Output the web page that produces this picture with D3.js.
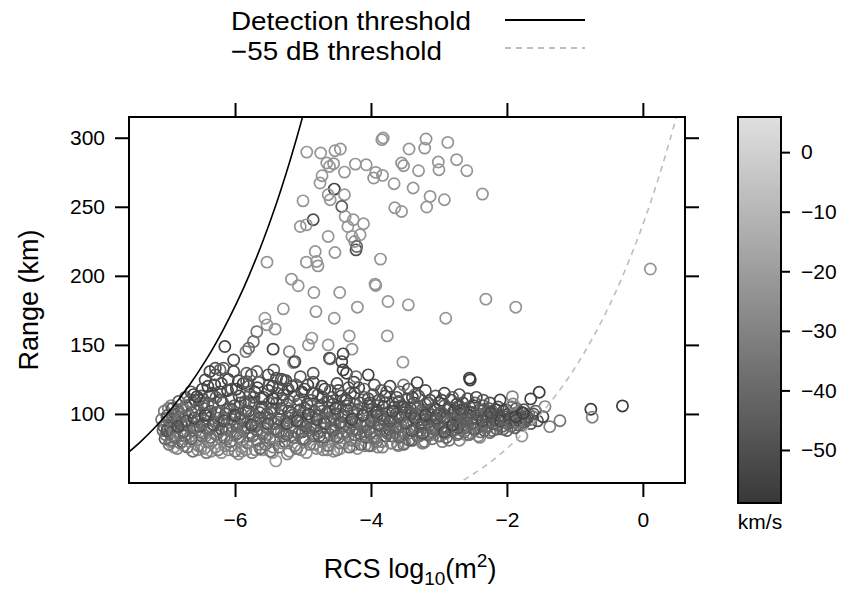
<!DOCTYPE html>
<html><head><meta charset="utf-8">
<script src="https://cdn.jsdelivr.net/npm/d3@7"></script>
<style>body{margin:0;background:#fff}text{font-family:"Liberation Sans",Arial,sans-serif;fill:#000}</style>
</head><body><svg id="c" width="842" height="591"></svg>
<script>
const xTicks = [-6, -4, -2, 0];
const yTicks = [100, 150, 200, 250, 300];
const cTicks = [0, -10, -20, -30, -40, -50];
const legendLabels = ["Detection threshold", "\u221255 dB threshold"];
// threshold curves: [log10 RCS, range km]
const detectionCurve = [[-7.62,70],[-7.388,80],[-7.183,90],[-7.0,100],[-6.683,120],[-6.415,140],[-6.184,160],[-5.979,180],[-5.796,200],[-5.591,225],[-5.408,250],[-5.243,275],[-5.092,300],[-4.979,320]];
const dbCurve = [[-2.775,48],[-2.387,60],[-2.12,70],[-1.888,80],[-1.683,90],[-1.5,100],[-1.183,120],[-0.915,140],[-0.684,160],[-0.479,180],[-0.296,200],[-0.091,225],[0.092,250],[0.257,275],[0.408,300],[0.521,320]];
// points: [log10 RCS, range km, velocity km/s]
const bandPoints = [
[-7.08,96,-38],[-7.06,88,-42],[-7.04,102,-33],[-7.03,82,-47],[-7.01,92,-30],[-6.99,99,-50],[-6.97,78,-36],[-6.96,86,-44],[-6.94,106,-28],[-6.92,94,-40],[-6.90,83,-34],[-6.88,100,-52],[-6.87,90,-37],[-6.85,75,-31],[-6.83,109,-45],[-6.82,97,-39],[-6.80,86,-26],[-6.78,80,-48],[-6.76,104,-35],[-6.75,93,-43],[-6.73,112,-50],[-6.71,88,-30],[-6.70,76,-37],[-6.68,99,-46],[-6.66,84,-33],[-6.65,107,-41],[-6.63,95,-29],[-6.62,73,-36],[-6.61,114,-55],[-6.60,90,-44],
[-6.58,102,-38],[-6.57,81,-32],[-6.55,96,-49],[-6.53,110,-42],[-6.52,87,-35],[-6.50,76,-27],[-6.48,118,-56],[-6.47,93,-40],[-6.45,104,-45],[-6.43,84,-30],[-6.42,72,-34],[-6.40,99,-52],[-6.38,113,-47],[-6.37,89,-38],[-6.35,79,-25],[-6.33,106,-43],[-6.32,95,-36],[-6.30,121,-57],[-6.28,85,-41],[-6.27,101,-48],[-6.25,74,-33],[-6.23,92,-39],[-6.22,116,-53],[-6.20,82,-29],[-6.18,108,-44],[-6.17,97,-37],[-6.15,77,-31],[-6.13,89,-46],[-6.12,103,-40],[-6.10,125,-56],
[-6.08,94,-35],[-6.07,80,-42],[-6.05,111,-50],[-6.03,87,-28],[-6.02,100,-38],[-6.00,73,-33],[-5.98,118,-54],[-5.97,91,-45],[-5.95,105,-36],[-5.93,83,-40],[-5.92,97,-49],[-5.90,76,-27],[-5.88,122,-58],[-5.87,88,-37],[-5.85,109,-43],[-5.83,94,-31],[-5.82,79,-39],[-5.80,102,-51],[-5.78,114,-46],[-5.77,86,-34],[-5.75,72,-30],[-5.73,98,-42],[-5.72,107,-38],[-5.70,91,-48],[-5.68,81,-36],[-5.67,119,-55],[-5.65,96,-29],[-5.63,75,-41],[-5.62,104,-44],[-5.60,88,-37],
[-5.58,112,-52],[-5.57,93,-33],[-5.55,78,-39],[-5.53,100,-46],[-5.52,85,-30],[-5.50,108,-42],[-5.48,73,-36],[-5.47,96,-50],[-5.45,120,-57],[-5.43,89,-38],[-5.42,103,-44],[-5.40,81,-27],[-5.38,115,-48],[-5.37,94,-35],[-5.35,76,-40],[-5.33,99,-53],[-5.32,87,-31],[-5.30,110,-45],[-5.28,92,-37],[-5.27,80,-43],[-5.25,105,-34],[-5.23,71,-29],[-5.22,118,-55],[-5.20,97,-41],[-5.18,84,-38],[-5.17,101,-49],[-5.15,90,-32],[-5.13,113,-46],[-5.12,77,-36],[-5.10,95,-43],
[-5.08,107,-39],[-5.07,86,-50],[-5.05,99,-34],[-5.03,74,-28],[-5.02,116,-54],[-5.00,92,-41],[-4.98,82,-37],[-4.97,104,-46],[-4.95,95,-33],[-4.93,121,-58],[-4.92,88,-40],[-4.90,78,-35],[-4.88,110,-48],[-4.87,97,-30],[-4.85,84,-43],[-4.83,102,-38],[-4.82,91,-52],[-4.80,75,-26],[-4.78,114,-45],[-4.77,99,-36],[-4.75,87,-42],[-4.73,106,-50],[-4.72,80,-33],[-4.70,94,-39],[-4.68,118,-56],[-4.67,90,-31],[-4.65,101,-47],[-4.63,77,-37],[-4.62,109,-44],[-4.60,85,-40],
[-4.58,96,-35],[-4.57,112,-51],[-4.55,82,-29],[-4.53,100,-43],[-4.52,89,-38],[-4.50,74,-32],[-4.48,117,-55],[-4.47,93,-46],[-4.45,105,-40],[-4.43,86,-36],[-4.42,98,-49],[-4.40,79,-27],[-4.38,110,-44],[-4.37,92,-37],[-4.35,103,-52],[-4.33,84,-33],[-4.32,76,-39],[-4.30,115,-47],[-4.28,97,-34],[-4.27,88,-42],[-4.25,107,-38],[-4.23,81,-30],[-4.22,94,-50],[-4.20,100,-41],[-4.18,119,-57],[-4.17,86,-36],[-4.15,78,-44],[-4.13,104,-39],[-4.12,91,-33],[-4.10,112,-48],
[-4.08,95,-37],[-4.07,83,-45],[-4.05,101,-30],[-4.03,77,-40],[-4.02,108,-53],[-4.00,90,-35],[-3.98,98,-46],[-3.97,114,-50],[-3.95,86,-28],[-3.93,103,-42],[-3.92,80,-38],[-3.90,93,-34],[-3.88,110,-49],[-3.87,88,-44],[-3.85,99,-36],[-3.83,76,-31],[-3.82,105,-55],[-3.80,92,-39],[-3.78,84,-47],[-3.77,116,-43],[-3.75,97,-33],[-3.73,89,-51],[-3.72,102,-37],[-3.70,79,-29],[-3.68,108,-45],[-3.67,94,-40],[-3.65,86,-35],[-3.63,100,-48],[-3.62,112,-54],[-3.60,91,-38],
[-3.58,83,-42],[-3.57,97,-31],[-3.55,106,-47],[-3.53,88,-36],[-3.52,78,-40],[-3.50,101,-52],[-3.48,93,-34],[-3.47,111,-45],[-3.45,86,-38],[-3.43,99,-29],[-3.42,104,-50],[-3.40,81,-43],[-3.38,95,-37],[-3.37,108,-55],[-3.35,90,-33],[-3.33,100,-46],[-3.32,84,-40],[-3.30,113,-49],[-3.28,96,-35],[-3.27,88,-44],[-3.25,103,-38],[-3.23,79,-31],[-3.22,92,-53],[-3.20,107,-42],[-3.18,98,-36],[-3.17,85,-47],[-3.15,101,-40],[-3.13,110,-51],[-3.12,90,-34],[-3.10,82,-39],
[-3.08,96,-45],[-3.07,104,-37],[-3.05,88,-42],[-3.03,99,-54],[-3.02,93,-33],[-3.00,108,-48],[-2.98,84,-38],[-2.97,101,-44],[-2.95,95,-30],[-2.93,90,-50],[-2.92,106,-41],[-2.90,86,-36],[-2.88,98,-47],[-2.87,103,-39],[-2.85,81,-34],[-2.83,94,-52],[-2.82,110,-45],[-2.80,99,-37],[-2.78,89,-43],[-2.77,102,-56],[-2.75,92,-35],[-2.73,85,-40],[-2.72,105,-49],[-2.70,97,-38],[-2.68,90,-33],[-2.67,100,-46],[-2.65,108,-53],[-2.63,87,-42],[-2.62,95,-36],[-2.60,103,-44],
[-2.58,91,-39],[-2.57,99,-50],[-2.55,105,-43],[-2.53,86,-35],[-2.52,96,-47],[-2.50,101,-38],[-2.48,89,-55],[-2.47,108,-41],[-2.45,94,-36],[-2.43,99,-46],[-2.42,84,-33],[-2.40,103,-52],[-2.38,92,-40],[-2.37,97,-44],[-2.35,106,-37],[-2.33,88,-49],[-2.32,100,-42],[-2.30,95,-56],[-2.28,91,-38],[-2.27,104,-45],[-2.25,87,-35],[-2.23,98,-51],[-2.22,102,-40],[-2.20,93,-47],[-2.18,96,-55],[-2.17,100,-36],[-2.15,89,-43],[-2.13,105,-50],[-2.12,94,-39],[-2.10,98,-46],
[-2.07,91,-42],[-2.05,102,-53],[-2.03,96,-38],[-2.00,88,-45],[-1.98,100,-57],[-1.95,94,-36],[-1.93,105,-48],[-1.90,98,-40],[-1.88,90,-44],[-1.85,101,-35],[-1.82,95,-50],[-1.80,99,-42],[-1.77,92,-38],[-1.75,103,-47],[-1.72,96,-55],[-1.68,100,-39],[-1.65,93,-45],[-1.62,98,-36],[-1.58,102,-43],[-1.55,95,-50]
];
const bandPoints2 = [
[-7.05,91,-44],[-7.02,85,-36],[-7.00,97,-41],[-6.98,104,-33],[-6.95,90,-47],[-6.93,81,-38],[-6.91,99,-42],[-6.89,87,-30],[-6.86,95,-45],[-6.84,103,-39],[-6.81,79,-34],[-6.79,92,-50],[-6.77,98,-37],[-6.74,84,-43],[-6.72,106,-40],[-6.69,93,-35],[-6.67,80,-29],[-6.64,101,-48],[-6.62,88,-41],[-6.59,110,-52],
[-6.56,91,-37],[-6.54,77,-31],[-6.51,99,-44],[-6.49,84,-39],[-6.46,108,-47],[-6.44,95,-36],[-6.41,89,-42],[-6.39,80,-33],[-6.36,102,-49],[-6.34,115,-54],[-6.31,92,-40],[-6.29,76,-30],[-6.26,97,-45],[-6.24,87,-38],[-6.21,110,-51],[-6.19,94,-36],[-6.16,83,-43],[-6.14,100,-47],[-6.11,117,-55],[-6.09,89,-39],
[-6.06,77,-32],[-6.04,96,-44],[-6.01,106,-49],[-5.99,85,-37],[-5.96,93,-41],[-5.94,113,-53],[-5.91,100,-46],[-5.89,81,-35],[-5.86,96,-40],[-5.84,74,-28],[-5.81,90,-43],[-5.79,108,-50],[-5.76,99,-38],[-5.74,84,-45],[-5.71,116,-56],[-5.69,94,-36],[-5.66,78,-33],[-5.64,101,-47],[-5.61,111,-51],[-5.59,86,-40],
[-5.56,97,-44],[-5.54,90,-37],[-5.51,117,-54],[-5.49,82,-42],[-5.46,104,-48],[-5.44,76,-31],[-5.41,93,-39],[-5.39,108,-46],[-5.36,87,-43],[-5.34,99,-36],[-5.31,79,-30],[-5.29,114,-52],[-5.26,95,-41],[-5.24,85,-45],[-5.21,102,-50],[-5.19,91,-37],[-5.16,120,-57],[-5.14,83,-40],[-5.11,98,-44],[-5.09,75,-33],
[-5.06,110,-49],[-5.04,94,-38],[-5.01,87,-46],[-4.99,101,-42],[-4.96,81,-36],[-4.94,107,-51],[-4.91,96,-39],[-4.89,90,-44],[-4.86,115,-55],[-4.84,78,-32],[-4.81,99,-47],[-4.79,86,-40],[-4.76,104,-45],[-4.74,93,-37],[-4.71,112,-53],[-4.69,83,-43],[-4.66,97,-38],[-4.64,74,-30],[-4.61,102,-48],[-4.59,90,-41],
[-4.56,107,-50],[-4.54,95,-36],[-4.51,84,-44],[-4.49,100,-46],[-4.46,79,-34],[-4.44,113,-54],[-4.41,91,-40],[-4.39,98,-43],[-4.36,87,-38],[-4.34,106,-49],[-4.31,94,-45],[-4.29,81,-35],[-4.26,101,-41],[-4.24,115,-56],[-4.21,89,-42],[-4.19,96,-37],[-4.16,108,-48],[-4.14,84,-44],[-4.11,99,-51],[-4.09,77,-31],
[-4.06,92,-40],[-4.04,111,-52],[-4.01,86,-43],[-3.99,103,-46],[-3.96,95,-38],[-3.94,82,-36],[-3.91,99,-49],[-3.89,106,-45],[-3.86,91,-41],[-3.84,80,-34],[-3.81,96,-47],[-3.79,113,-55],[-3.76,88,-40],[-3.74,101,-44],[-3.71,93,-37],[-3.69,84,-46],[-3.66,105,-50],[-3.64,97,-42],[-3.61,78,-33],[-3.59,109,-53],
[-3.56,92,-39],[-3.54,99,-45],[-3.51,86,-41],[-3.49,104,-48],[-3.46,95,-36],[-3.44,81,-43],[-3.41,100,-51],[-3.39,112,-54],[-3.36,89,-40],[-3.34,97,-46],[-3.31,106,-44],[-3.29,84,-38],[-3.26,93,-49],[-3.24,101,-42],[-3.21,80,-35],[-3.19,96,-47],[-3.16,108,-52],[-3.14,92,-41],[-3.11,99,-45],[-3.09,87,-39],
[-3.06,103,-50],[-3.04,95,-43],[-3.01,84,-37],[-2.99,100,-48],[-2.96,110,-55],[-2.94,91,-40],[-2.91,97,-46],[-2.89,83,-42],[-2.86,104,-51],[-2.84,94,-38],[-2.81,88,-44],[-2.79,101,-49],[-2.76,96,-41],[-2.74,107,-54],[-2.71,86,-39],[-2.69,93,-47],[-2.66,99,-43],[-2.64,103,-52],[-2.61,90,-40],[-2.59,96,-45],
[-2.56,85,-38],[-2.54,101,-50],[-2.51,93,-44],[-2.49,106,-55],[-2.46,89,-41],[-2.44,97,-47],[-2.41,100,-43],[-2.39,87,-39],[-2.36,95,-52],[-2.34,103,-46],[-2.31,91,-42],[-2.29,98,-49],[-2.26,94,-44],[-2.24,101,-53],[-2.21,88,-40],[-2.19,96,-47],[-2.16,103,-51],[-2.14,92,-43],[-2.11,99,-48],[-2.09,95,-55],
[-2.06,89,-42],[-2.04,98,-46],[-2.01,103,-50],[-1.99,93,-44],[-1.96,97,-52],[-1.94,91,-40],[-1.91,100,-47],[-1.88,95,-53],[-1.86,104,-45],[-1.83,92,-42],[-1.81,97,-49],[-1.78,101,-55],[-1.74,94,-44],[-1.70,98,-50],[-1.66,96,-42],[-1.61,100,-47]
];
const bandPoints3 = [
[-7.00,88,-50],[-6.96,96,-35],[-6.92,104,-46],[-6.88,83,-40],[-6.84,91,-52],[-6.80,100,-38],[-6.76,87,-44],[-6.72,95,-49],[-6.68,109,-36],[-6.64,82,-42],[-6.60,97,-53],[-6.56,104,-40],[-6.52,91,-47],[-6.48,86,-37],[-6.44,99,-55],[-6.40,107,-43],[-6.36,83,-39],[-6.32,92,-50],[-6.28,112,-45],[-6.24,101,-41],
[-6.20,89,-48],[-6.16,95,-52],[-6.12,82,-36],[-6.08,104,-46],[-6.04,91,-42],[-6.00,99,-54],[-5.96,86,-39],[-5.92,108,-50],[-5.88,95,-44],[-5.84,102,-47],[-5.80,84,-37],[-5.76,92,-53],[-5.72,112,-48],[-5.68,88,-42],[-5.64,97,-45],[-5.60,105,-51],[-5.56,83,-38],[-5.52,93,-49],[-5.48,101,-44],[-5.44,111,-55],
[-5.40,89,-43],[-5.36,96,-47],[-5.32,104,-50],[-5.28,84,-40],[-5.24,93,-52],[-5.20,109,-46],[-5.16,99,-44],[-5.12,87,-38],[-5.08,95,-53],[-5.04,103,-48],[-5.00,82,-42],[-4.96,91,-47],[-4.92,100,-55],[-4.88,106,-44],[-4.84,89,-40],[-4.80,96,-50],[-4.76,84,-46],[-4.72,102,-43],[-4.68,93,-52],[-4.64,109,-48],
[-4.60,97,-41],[-4.56,88,-45],[-4.52,104,-54],[-4.48,83,-39],[-4.44,94,-48],[-4.40,101,-44],[-4.36,110,-51],[-4.32,90,-42],[-4.28,96,-55],[-4.24,85,-40],[-4.20,103,-47],[-4.16,93,-44],[-4.12,99,-52],[-4.08,87,-42],[-4.04,106,-49],[-4.00,95,-45],[-3.96,83,-39],[-3.92,101,-53],[-3.88,92,-46],[-3.84,97,-43],
[-3.80,108,-50],[-3.76,86,-41],[-3.72,95,-48],[-3.68,102,-54],[-3.64,90,-44],[-3.60,98,-47],[-3.56,84,-40],[-3.52,105,-51],[-3.48,93,-46],[-3.44,100,-43],[-3.40,88,-49],[-3.36,97,-52],[-3.32,104,-45],[-3.28,91,-42],[-3.24,86,-48],[-3.20,99,-55],[-3.16,94,-44],[-3.12,103,-47],[-3.08,89,-41],[-3.04,97,-50],
[-3.00,92,-46],[-2.96,101,-43],[-2.92,87,-52],[-2.88,95,-45],[-2.84,104,-48],[-2.80,92,-55],[-2.76,98,-44],[-2.72,90,-47],[-2.68,103,-50],[-2.64,95,-43]
];
const bandTop = [
[-6.65,116,-50],[-6.50,113,-45],[-6.40,120,-55],[-6.20,122,-52],[-6.05,118,-48],[-5.95,124,-56],[-5.80,120,-44],[-5.65,123,-53],[-5.50,121,-47],[-5.35,119,-50],[-5.25,124,-55],[-5.10,121,-46],[-4.98,118,-52],[-4.85,123,-49],[-4.72,120,-54],[-4.60,117,-45],[-4.50,122,-51],[-4.33,119,-48],
[-4.25,123,-55],[-4.10,118,-43],[-3.95,121,-50],[-3.85,117,-47],[-3.72,120,-53],[-3.58,116,-46],[-3.45,118,-52],[-3.35,114,-44],[-3.20,117,-50],[-3.05,113,-47],[-2.92,115,-55],[-2.80,112,-45],[-2.70,114,-51],[-2.58,111,-48],[-2.45,112,-53],[-2.35,110,-46],[-2.25,108,-50]
];
const bandBottom = [
[-6.95,80,-28],[-6.75,77,-26],[-6.45,75,-30],[-6.35,73,-24],[-6.10,74,-28],[-5.95,71,-26],[-5.70,74,-29],[-5.45,72,-25],[-5.20,73,-28],[-4.95,72,-24],[-4.70,74,-30],[-4.55,73,-27],[-4.20,75,-25],[-3.90,76,-29],[-3.60,77,-27],[-3.25,79,-26],[-2.95,80,-30],[-2.70,81,-28],[-2.40,83,-27]
];
const lowPoints = [
[-5.40,66,-22],[-4.27,77,-25],[-3.71,78.8,-24],[-3.38,81,-28],[-3.13,84.8,-30],[-2.60,84.8,-26],[-2.25,86.4,-30],[-1.78,84,-25],[-1.37,90.8,-30],[-1.22,95.1,-36],
[-6.90,76,-22],[-6.55,74,-24],[-6.20,72,-23],[-5.90,73,-25],[-5.60,74,-22],[-5.10,75,-26],[-4.75,76,-24],[-4.45,75,-22],[-4.00,77,-27],[-3.50,79,-25]
];
const midPoints = [
[-5.53,209.9,-23],[-4.95,209.9,-23],[-4.80,210.4,-23],[-4.78,207.2,-24],[-4.22,218.8,-50],[-5.17,197.6,-23],[-5.07,192.8,-23],[-4.84,187.9,-23],[-4.46,187.9,-23],[-3.93,193.0,-23],[-3.75,181.4,-23],[-3.45,179.0,-23],
[-5.29,176.1,-23],[-4.81,174.1,-23],[-4.54,169.3,-23],[-4.20,177.3,-23],[-5.56,169.3,-22],[-5.53,164.5,-23],[-5.41,161.4,-24],[-5.68,159.6,-35],[-4.87,154.9,-23],[-4.92,150,-24],[-4.63,150,-23],[-4.32,156.5,-23],[-4.28,146.9,-24],[-3.76,156.5,-23],
[-4.41,143.5,-55],[-4.61,140.4,-57],[-5.20,145.1,-30],[-5.14,137.2,-28],[-3.53,137.5,-23],[-5.44,146.9,-55],[-2.90,169.3,-23],[-2.31,183.1,-23],[-1.87,177.3,-23],[-2.55,125.9,-58],
[-5.73,152.4,-38],[-5.80,147.6,-40],[-5.84,145.1,-33],[-6.15,148.8,-55],[-6.02,139.1,-52],[-6.17,133.1,-45],[-6.29,133.1,-50],[-6.37,130.7,-55],[-6.44,124.6,-54],[-6.56,112.5,-56],
[-5.12,137.9,-53],[-5.43,131.9,-45],[-5.76,128.3,-50],[-5.83,123.4,-47],[-5.32,125.1,-52],[-5.04,127.0,-45],[-4.85,129.5,-48],[-4.41,131.9,-57],[-4.43,137.9,-55],[-4.36,129.5,-56],[-4.04,128.3,-56],[-4.22,127,-38],[-3.52,121,-35],[-3.32,122.7,-55],
[-5.51,128.3,-52],[-5.39,125.9,-50],[-5.83,129.5,-45],[-6.22,131.9,-42],[-6.29,128.3,-48],[-6.02,130.7,-50],[-5.68,130.7,-42],[-5.29,124.6,-47],[-4.60,139.9,-40]
];
const upperPoints = [
[-4.945,289.6,-23],[-4.74,288.9,-23],[-4.53,290.6,-23],[-4.45,291.8,-23],[-4.65,281.7,-23],[-4.55,281.2,-24],[-4.61,279.2,-23],[-4.39,275.1,-23],[-4.23,280.9,-23],[-4.07,280.4,-23],[-3.93,274.9,-23],[-3.96,270.8,-24],[-3.83,272.7,-23],[-3.84,298.6,-24],[-3.82,299.8,-23],[-3.66,266.7,-23],
[-4.72,272.5,-23],[-4.75,267.2,-23],[-4.54,262.8,-57],[-4.63,258.7,-23],[-4.39,258.7,-23],[-4.60,255.1,-23],[-5.00,254.3,-23],[-4.43,250.2,-45],[-4.85,240.6,-52],[-4.95,236.9,-23],[-5.04,235.7,-23],[-4.38,243.0,-23],[-4.26,240.6,-23],[-4.11,237.7,-23],[-4.34,235.7,-23],
[-4.16,229.7,-23],[-4.28,228.5,-23],[-4.24,224.9,-24],[-4.21,221.2,-40],[-4.63,228.5,-23],[-4.82,217.6,-23],[-4.53,216.9,-23],[-3.65,249.3,-23],[-3.55,246.6,-23],
[-3.19,299.1,-24],[-3.21,292.5,-23],[-2.87,296.6,-23],[-3.44,291.8,-23],[-3.55,281.7,-23],[-3.52,279.7,-23],[-3.30,276.1,-23],[-3.01,282.4,-23],[-3.00,276.8,-23],[-2.74,284.1,-23],[-2.59,276.1,-23],
[-3.38,263.6,-23],[-3.13,257.5,-23],[-2.92,255.1,-23],[-3.18,249.8,-23],[-2.36,259.2,-23],[-3.86,212.1,-23],[-3.94,194.0,-23],[0.11,204.9,-23]
];
const rightPoints = [
[-1.525,115.7,-57],[-1.65,110.9,-55],[-1.92,112.5,-30],[-1.91,107.2,-28],[-2.10,110.1,-56],[-0.30,105.8,-58],[-0.765,103.4,-57],[-0.745,97.6,-30],[-1.47,98,-55],[-1.44,105.3,-30],[-1.84,94.4,-35],[-1.87,98,-55],[-1.76,100.5,-56],[-2.54,124.6,-58]
];

const svg = d3.select("#c");
const L = 129, R = 685, T = 117, B = 483;
const x = d3.scaleLinear().domain([-7.56, 0.62]).range([L, R]);
const y = d3.scaleLinear().domain([50, 315]).range([B, T]);
const cScale = d3.scaleLinear().domain([-58.9, 5.9]).range([503, 117]);
const gray = d3.scaleLinear().domain([-58.9, 5.9]).range(["#383838", "#e0e0e0"]).clamp(true);

svg.append("defs").append("clipPath").attr("id", "clip")
  .append("rect").attr("x", L).attr("y", T).attr("width", R - L).attr("height", B - T);

const plot = svg.append("g").attr("clip-path", "url(#clip)");
const allPts = bandBottom.concat(lowPoints, bandPoints, bandPoints2, bandPoints3, bandTop, midPoints, upperPoints, rightPoints);
plot.selectAll("circle").data(allPts).join("circle")
  .attr("cx", d => x(d[0])).attr("cy", d => y(d[1])).attr("r", 5.6)
  .attr("fill", "none").attr("stroke", d => gray(d[2])).attr("stroke-width", 1.7);

const line = d3.line().x(d => x(d[0])).y(d => y(d[1])).curve(d3.curveCatmullRom);
plot.append("path").attr("d", line(detectionCurve)).attr("fill", "none").attr("stroke", "#000").attr("stroke-width", 1.6);
plot.append("path").attr("d", line(dbCurve)).attr("fill", "none").attr("stroke", "#bdbdbd").attr("stroke-width", 1.6).attr("stroke-dasharray", "6,5");

svg.append("rect").attr("x", L).attr("y", T).attr("width", R - L).attr("height", B - T)
  .attr("fill", "none").attr("stroke", "#000").attr("stroke-width", 2);

const fmt = d => d3.format("")(d);
function styleAxis(g) {
  g.select(".domain").remove();
  g.selectAll(".tick line").attr("stroke", "#000").attr("stroke-width", 2);
  g.selectAll(".tick text").attr("font-size", 21).attr("font-family", "Liberation Sans, Arial, sans-serif").attr("fill", "#000");
}
svg.append("g").attr("transform", `translate(0,${B})`)
  .call(d3.axisBottom(x).tickValues(xTicks).tickSize(14).tickPadding(15).tickFormat(fmt)).call(styleAxis);
svg.append("g").attr("transform", `translate(0,${T})`)
  .call(d3.axisTop(x).tickValues(xTicks).tickSize(14).tickFormat("")).call(styleAxis);
svg.append("g").attr("transform", `translate(${L},0)`)
  .call(d3.axisLeft(y).tickValues(yTicks).tickSize(14).tickPadding(10).tickFormat(fmt)).call(styleAxis);
svg.append("g").attr("transform", `translate(${R},0)`)
  .call(d3.axisRight(y).tickValues(yTicks).tickSize(14).tickFormat("")).call(styleAxis);

// colorbar
const grad = svg.select("defs").append("linearGradient").attr("id", "cg")
  .attr("x1", 0).attr("y1", 1).attr("x2", 0).attr("y2", 0);
d3.range(0, 1.0001, 0.1).forEach(t => {
  grad.append("stop").attr("offset", t).attr("stop-color", gray(-58.9 + t * 64.8));
});
svg.append("rect").attr("x", 738).attr("y", 117).attr("width", 43).attr("height", 386)
  .attr("fill", "url(#cg)").attr("stroke", "#000").attr("stroke-width", 2);
svg.append("g").attr("transform", "translate(781,0)")
  .call(d3.axisRight(cScale).tickValues(cTicks).tickSize(9).tickPadding(11).tickFormat(fmt)).call(styleAxis);
svg.append("text").attr("x", 760).attr("y", 529).attr("text-anchor", "middle").attr("font-size", 21).text("km/s");

// axis titles
svg.append("text").attr("transform", "translate(38,300) rotate(-90)").attr("text-anchor", "middle")
  .attr("font-size", 27).text("Range (km)");
const xt = svg.append("text").attr("x", 410).attr("y", 578).attr("text-anchor", "middle").attr("font-size", 27);
xt.append("tspan").text("RCS log");
xt.append("tspan").attr("font-size", 19).attr("dy", 7).text("10");
xt.append("tspan").attr("dy", -7).text("(m");
xt.append("tspan").attr("font-size", 19).attr("dy", -11).text("2");
xt.append("tspan").attr("dy", 11).text(")");

// legend
const lg = svg.append("g");
lg.append("text").attr("x", 231).attr("y", 30).attr("font-size", 25.5).attr("textLength", 240).attr("lengthAdjust", "spacingAndGlyphs").text(legendLabels[0]);
lg.append("text").attr("x", 231).attr("y", 59.5).attr("font-size", 25.5).attr("textLength", 211).attr("lengthAdjust", "spacingAndGlyphs").text(legendLabels[1]);
lg.append("line").attr("x1", 505).attr("x2", 585).attr("y1", 20).attr("y2", 20).attr("stroke", "#000").attr("stroke-width", 2);
lg.append("line").attr("x1", 505).attr("x2", 585).attr("y1", 48).attr("y2", 48).attr("stroke", "#bdbdbd").attr("stroke-width", 2).attr("stroke-dasharray", "6,5");
</script></body></html>
